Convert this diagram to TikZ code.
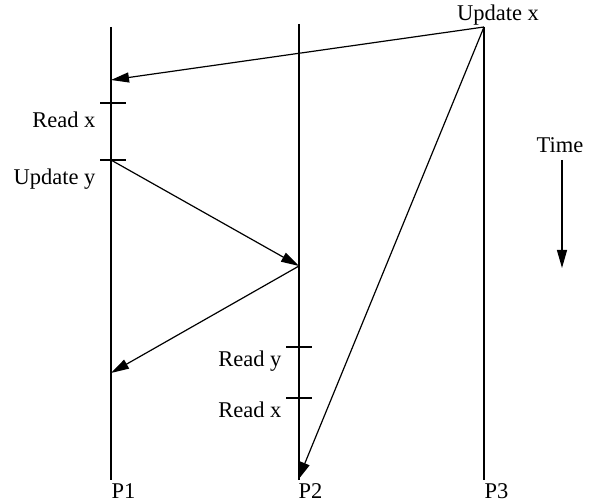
\documentclass[tikz,border=0pt]{standalone}
\usepackage{fontspec}
\setmainfont{Liberation Serif}
\usetikzlibrary{arrows.meta}
\begin{document}
\begin{tikzpicture}[x=1pt,y=-1pt,
  line width=1.2pt,
  msg/.style={-{Triangle[length=18pt,width=10pt]}},
  tick/.style={line width=1.2pt},
  lbl/.style={inner sep=0pt,font=\fontsize{22.5}{27}\selectfont}]
\useasboundingbox (0,0) rectangle (596,502);
% process lines
\coordinate (p1t) at (111,27);  \coordinate (p1b) at (111,480);
\coordinate (p2t) at (299,24);  \coordinate (p2b) at (299,480);
\coordinate (p3t) at (484,27);  \coordinate (p3b) at (484,480);
\draw (p1t) -- (p1b);
\draw (p2t) -- (p2b);
\draw (p3t) -- (p3b);
% events
\coordinate (ux) at (484,27);
\coordinate (rx1) at (111,80);
\coordinate (uy) at (111,160);
\coordinate (ry2) at (299,266);
\coordinate (r1) at (111,373);
\coordinate (rx2) at (298,480);
% ticks
\coordinate (t1a) at (100,103); \coordinate (t1b) at (126,103);
\coordinate (t2a) at (100,160); \coordinate (t2b) at (126,160);
\coordinate (t3a) at (286,347); \coordinate (t3b) at (312,347);
\coordinate (t4a) at (286,398); \coordinate (t4b) at (312,398);
\draw[tick] (t1a) -- (t1b);
\draw[tick] (t2a) -- (t2b);
\draw[tick] (t3a) -- (t3b);
\draw[tick] (t4a) -- (t4b);
% messages
\draw[msg] (ux) -- (rx1);
\draw[msg] (uy) -- (ry2);
\draw[msg] (ry2) -- (r1);
\draw[msg] (ux) -- (rx2);
% labels
\node[lbl,anchor=base] (lux) at (498,21) {Update x};
\node[lbl,anchor=base east] (lrx1) at (96,128) {Read x};
\node[lbl,anchor=base east] (luy) at (96,185) {Update y};
\node[lbl,anchor=base east] (lry) at (282,366) {Read y};
\node[lbl,anchor=base east] (lrx2) at (282,417) {Read x};
\node[lbl,anchor=base west] (lp1) at (111,498) {P1};
\node[lbl,anchor=base west] (lp2) at (298,498) {P2};
\node[lbl,anchor=base west] (lp3) at (484,498) {P3};
% time
\node[lbl,anchor=base] (ltime) at (560,153) {Time};
\coordinate (ta) at (562,160);
\coordinate (tb) at (562,268);
\draw[msg] (ta) -- (tb);
\end{tikzpicture}
\end{document}
